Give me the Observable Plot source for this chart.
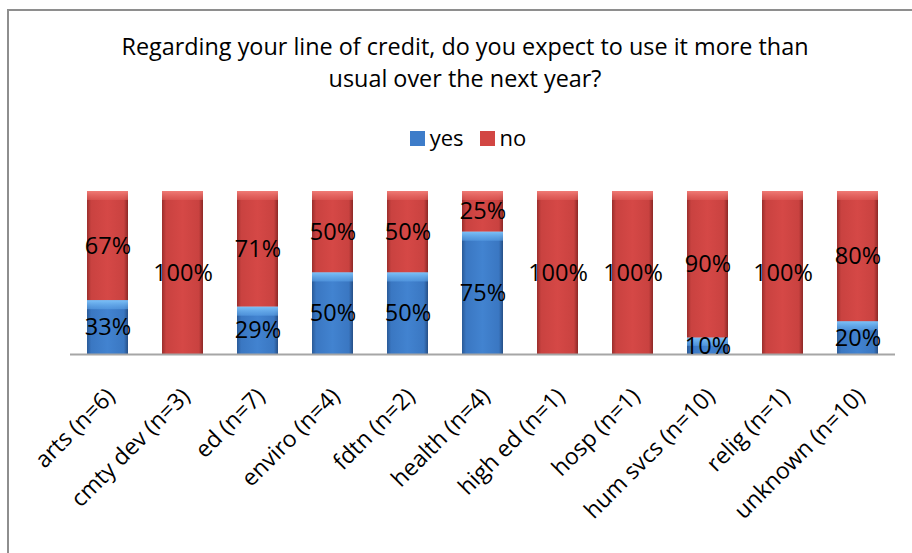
<!DOCTYPE html>
<html><head><meta charset="utf-8">
<script src="https://cdn.jsdelivr.net/npm/d3@7"></script>
<script src="https://cdn.jsdelivr.net/npm/@observablehq/plot@0.6"></script>
<style>
body{margin:0;background:#fff;}
#wrap{position:relative;width:912px;height:553px;overflow:hidden;font-family:"Open Sans",sans-serif;color:#000;}
#frame{position:absolute;left:7px;top:9px;width:1000px;height:1000px;border:2px solid #8e8e8e;box-sizing:border-box;}
#title{position:absolute;left:0;width:930px;top:30px;text-align:center;font-size:23.4px;line-height:32px;}
#legend{position:absolute;left:0;width:936px;top:123px;text-align:center;font-size:22px;line-height:28px;}
#legend span.sw{display:inline-block;width:15px;height:15px;vertical-align:0;margin-right:5px;}
#legend span.it{margin:0 8px;}
#chart{position:absolute;left:0;top:0;}
</style></head>
<body><div id="wrap"><div id="frame"></div><div id="chart"></div>
<div id="title">Regarding your line of credit, do you expect to use it more than<br>usual over the next year?</div>
<div id="legend"></div></div>
<script>
const categories = ["arts (n=6)","cmty dev (n=3)","ed (n=7)","enviro (n=4)","fdtn (n=2)","health (n=4)","high ed (n=1)","hosp (n=1)","hum svcs (n=10)","relig (n=1)","unknown (n=10)"];
const yesPct = [33,0,29,50,50,75,0,0,10,0,20];
const noPct  = [67,100,71,50,50,25,100,100,90,100,80];
const seriesNames = ["yes","no"];
const seriesColors = ["#3d7cc9","#d24643"];

const rows = [];
categories.forEach((c,i)=>{
  rows.push({cat:c, series:"yes", pct:yesPct[i], y1:0, y2:yesPct[i]/100});
  rows.push({cat:c, series:"no", pct:noPct[i], y1:yesPct[i]/100, y2:(yesPct[i]+noPct[i])/100});
});
const shown = rows.filter(d=>d.pct>0);

const chart = Plot.plot({
  width:912, height:553,
  marginTop:191, marginBottom:199, marginLeft:70, marginRight:17,
  style:{fontFamily:"'Open Sans', sans-serif", background:"transparent", overflow:"visible"},
  x:{domain:categories, paddingInner:0.45, paddingOuter:0.225, axis:null},
  y:{domain:[0,1], axis:null},
  color:{domain:seriesNames, range:["url(#gYes)","url(#gNo)"]},
  marks:[
    Plot.barY(shown,{x:"cat", y1:"y1", y2:"y2", fill:"series"}),
    Plot.barY(shown,{x:"cat", y1:d=>d.y2-Math.min(0.055,(d.y2-d.y1)*0.5), y2:"y2", fill:d=>d.series==="yes"?"url(#bYes)":"url(#bNo)"}),
    Plot.ruleY([0],{stroke:"#a6a6a6", strokeWidth:2}),
    Plot.text(shown,{x:"cat", y:d=>(d.y1+d.y2)/2, text:d=>d.pct+"%", fontSize:23.5, fill:"#000"}),
    Plot.text(categories,{x:d=>d, frameAnchor:"bottom", rotate:-45, textAnchor:"end", lineAnchor:"middle", dx:3, dy:38, fontSize:23, fill:"#000"})
  ]
});
const defs = `<defs>
<linearGradient id="gYes" x1="0" x2="1" y1="0" y2="0">
<stop offset="0" stop-color="#2a5a97"/><stop offset="0.1" stop-color="#3a77c2"/><stop offset="0.5" stop-color="#4283d0"/><stop offset="0.9" stop-color="#3a77c2"/><stop offset="1" stop-color="#264f86"/></linearGradient>
<linearGradient id="gNo" x1="0" x2="1" y1="0" y2="0">
<stop offset="0" stop-color="#9a2e2c"/><stop offset="0.1" stop-color="#c94240"/><stop offset="0.5" stop-color="#d54846"/><stop offset="0.9" stop-color="#c94240"/><stop offset="1" stop-color="#8c2826"/></linearGradient>
<linearGradient id="bYes" x1="0" x2="0" y1="0" y2="1">
<stop offset="0" stop-color="#7cc0f7"/><stop offset="1" stop-color="#5aa0e6" stop-opacity="0.6"/></linearGradient>
<linearGradient id="bNo" x1="0" x2="0" y1="0" y2="1">
<stop offset="0" stop-color="#f07b76"/><stop offset="1" stop-color="#e05c58" stop-opacity="0.6"/></linearGradient>
</defs>`;
chart.insertAdjacentHTML("afterbegin", defs);
document.getElementById("chart").appendChild(chart);

const leg = document.getElementById("legend");
seriesNames.forEach((s,i)=>{
  const it = document.createElement("span"); it.className="it";
  it.innerHTML = `<span class="sw" style="background:${seriesColors[i]}"></span>${s}`;
  leg.appendChild(it);
});
</script></body></html>
